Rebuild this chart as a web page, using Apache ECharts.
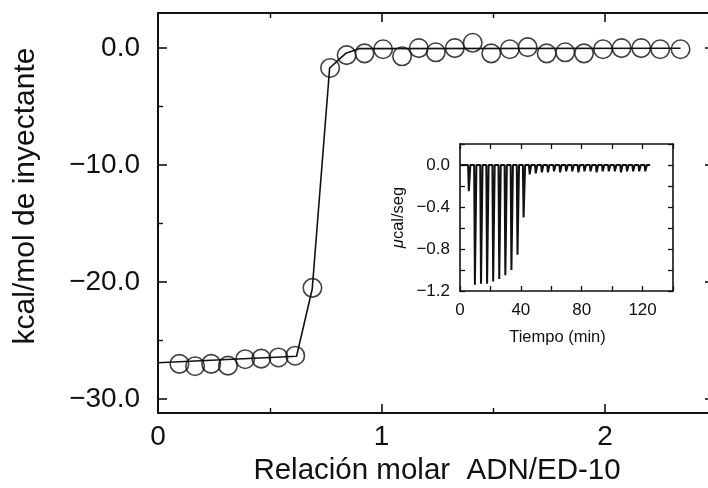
<!DOCTYPE html>
<html>
<head>
<meta charset="utf-8">
<script src="https://cdn.jsdelivr.net/npm/echarts@6/dist/echarts.min.js"></script>
<style>
  html, body { margin: 0; padding: 0; background: #ffffff; }
  #chart { width: 708px; height: 488px; }
</style>
</head>
<body>
<div id="chart"></div>
<script>
// ---- Main titration data (molar ratio vs kcal/mol of injectant) ----
const molarRatio = [0.096, 0.166, 0.238, 0.313, 0.390, 0.462, 0.539, 0.614, 0.691, 0.770,
                    0.844, 0.924, 1.007, 1.092, 1.167, 1.243, 1.328, 1.408, 1.491, 1.574,
                    1.654, 1.739, 1.822, 1.906, 1.991, 2.074, 2.162, 2.247, 2.338];
const heatPerMol = [-27.0, -27.2, -27.0, -27.15, -26.6, -26.55, -26.45, -26.3, -20.5, -1.7,
                    -0.6, -0.45, -0.1, -0.7, 0.0, -0.36, 0.0, 0.45, -0.45, -0.1,
                    0.08, -0.45, -0.36, -0.45, -0.1, 0.0, 0.0, -0.1, -0.1];
// ---- Fitted curve ----
const fitRatio = [0.0, 0.62, 0.69, 0.768, 0.84, 0.90, 2.338];
const fitHeat  = [-26.9, -26.35, -20.6, -1.7, -0.45, -0.05, -0.02];
// ---- Inset thermogram: injection times (min) and peak power (µcal/s) ----
const injTime = [5.5, 9.5, 13.5, 17.5, 21.5, 25.5, 29.5, 33.5, 37.5, 41.5,
                 45.5, 49.5, 53.5, 57.5, 61.5, 65.5, 69.5, 73.5, 77.5, 81.5,
                 85.5, 89.5, 93.5, 97.5, 101.5, 105.5, 109.5, 113.5, 117.5, 121.5];
const peakPower = [-0.25, -1.14, -1.13, -1.13, -1.11, -1.085, -1.05, -1.0, -0.855, -0.5,
                   -0.09, -0.08, -0.07, -0.07, -0.06, -0.07, -0.06, -0.06, -0.07, -0.06,
                   -0.06, -0.07, -0.06, -0.06, -0.06, -0.07, -0.06, -0.06, -0.06, -0.06];
const thermoStart = 0.5, thermoEnd = 125;
// ---- Tick values ----
const mainXTicks = [0, 1, 2];
const mainXMinor = [0.5, 1.5];
const mainYTicks = [-30, -20, -10, 0];
const mainYMinor = [-25, -15, -5];

const FONT = 'Liberation Sans, Arial, Helvetica, sans-serif';
const INK = '#111111';
const fmtMinus = (v, d) => {
  const s = Math.abs(v) < 1e-9 ? (0).toFixed(d) : v.toFixed(d);
  return s.replace('-', '\u2212');
};

const scatterData = molarRatio.map((x, i) => [x, heatPerMol[i]]);
const fitData = fitRatio.map((x, i) => [x, fitHeat[i]]);
const thermoData = [[thermoStart, 0]];
injTime.forEach((t, i) => {
  thermoData.push([t - 0.2, 0], [t + 0.3, peakPower[i]], [t + 1.3, 0]);
});
thermoData.push([thermoEnd, 0]);

const X_MAX = 556 / 223.5;
const Y_MIN = -31.2, Y_MAX = 3;

const lineStyleMain = { color: INK, width: 2 };
function xMain(extra) {
  return Object.assign({
    gridIndex: 0, type: 'value', min: 0, max: X_MAX,
    splitLine: { show: false },
    axisLine: { show: true, onZero: false, lineStyle: lineStyleMain },
    axisLabel: { show: false },
  }, extra);
}
function yMain(extra) {
  return Object.assign({
    gridIndex: 0, type: 'value', min: Y_MIN, max: Y_MAX,
    splitLine: { show: false },
    axisLine: { show: true, onZero: false, lineStyle: lineStyleMain },
    axisLabel: { show: false },
  }, extra);
}
const noLine = { show: false, onZero: false };
const tickMajor = (vals) => ({ show: true, inside: true, length: 9, customValues: vals, lineStyle: { color: INK, width: 1.6 } });
const tickMinor = (vals) => ({ show: true, inside: true, length: 5, customValues: vals, lineStyle: { color: INK, width: 1.4 } });

const insetAxisLine = { show: true, onZero: false, lineStyle: { color: INK, width: 1.6 } };
const insetTick = { show: true, inside: true, length: 5, lineStyle: { color: INK, width: 1.3 } };

const option = {
  animation: false,
  backgroundColor: '#ffffff',
  textStyle: { fontFamily: FONT },
  grid: [
    { left: 158, top: 13, width: 556, height: 400, containLabel: false, outerBoundsMode: 'none' },
    { left: 460, top: 144, width: 213, height: 147, containLabel: false, outerBoundsMode: 'none' }
  ],
  xAxis: [
    xMain({
      position: 'bottom',
      axisTick: tickMajor(mainXTicks),
      axisLabel: { show: true, customValues: mainXTicks, fontSize: 28, color: INK, margin: 10, fontFamily: FONT,
                   formatter: v => String(Math.round(v)) },
      name: 'Relación molar  ADN/ED-10', nameLocation: 'middle', nameGap: 31,
      nameTextStyle: { fontSize: 29.5, color: INK, fontFamily: FONT, padding: [0, 0, 0, 2] }
    }),
    xMain({ position: 'bottom', axisLine: noLine, axisTick: tickMinor(mainXMinor) }),
    xMain({ position: 'top', axisTick: tickMajor(mainXTicks) }),
    xMain({ position: 'top', axisLine: noLine, axisTick: tickMinor(mainXMinor) }),
    {
      gridIndex: 1, type: 'value', min: 0, max: 140, interval: 20, position: 'bottom',
      splitLine: { show: false }, axisLine: insetAxisLine, axisTick: insetTick,
      axisLabel: { show: true, fontSize: 17, color: INK, margin: 11, fontFamily: FONT,
                   formatter: v => (Math.round(v) % 40 === 0 ? String(Math.round(v)) : '') },
      name: 'Tiempo (min)', nameLocation: 'middle', nameGap: 38,
      nameTextStyle: { fontSize: 16.5, color: INK, fontFamily: FONT, padding: [0, 18, 0, 0] }
    },
    {
      gridIndex: 1, type: 'value', min: 0, max: 140, interval: 20, position: 'top',
      splitLine: { show: false }, axisLine: insetAxisLine, axisTick: insetTick,
      axisLabel: { show: false }
    }
  ],
  yAxis: [
    yMain({
      position: 'left',
      axisTick: tickMajor(mainYTicks),
      axisLabel: { show: true, customValues: mainYTicks, fontSize: 28, color: INK, margin: 18, fontFamily: FONT,
                   formatter: v => fmtMinus(v, 1) },
      name: 'kcal/mol de inyectante', nameLocation: 'middle', nameGap: 117,
      nameTextStyle: { fontSize: 30, color: INK, fontFamily: FONT, padding: [0, 0, 0, 34] }
    }),
    yMain({ position: 'left', axisLine: noLine, axisTick: tickMinor(mainYMinor) }),
    yMain({ position: 'right', axisTick: tickMajor(mainYTicks) }),
    yMain({ position: 'right', axisLine: noLine, axisTick: tickMinor(mainYMinor) }),
    {
      gridIndex: 1, type: 'value', min: -1.2, max: 0.2, interval: 0.2, position: 'left',
      splitLine: { show: false }, axisLine: insetAxisLine, axisTick: insetTick,
      axisLabel: { show: true, fontSize: 17, color: INK, margin: 10, fontFamily: FONT,
                   formatter: v => (Math.round(v * 10) % 4 === 0 ? fmtMinus(v, 1) : '') },
      name: '{i|\u03BC}cal/seg', nameLocation: 'middle', nameGap: 53,
      nameTextStyle: { fontSize: 16.5, color: INK, fontFamily: FONT,
                       rich: { i: { fontSize: 16.5, fontStyle: 'italic', color: INK, fontFamily: FONT } } }
    },
    {
      gridIndex: 1, type: 'value', min: -1.2, max: 0.2, interval: 0.2, position: 'right',
      splitLine: { show: false }, axisLine: insetAxisLine, axisTick: insetTick,
      axisLabel: { show: false }
    }
  ],
  series: [
    {
      name: 'ajuste', type: 'line', xAxisIndex: 0, yAxisIndex: 0,
      data: fitData, showSymbol: false, symbol: 'none', smooth: false,
      lineStyle: { color: INK, width: 1.6 }, z: 2
    },
    {
      name: 'datos', type: 'scatter', xAxisIndex: 0, yAxisIndex: 0,
      data: scatterData, symbol: 'circle', symbolSize: 18.5,
      itemStyle: { color: 'rgba(0,0,0,0)', borderColor: INK, borderWidth: 1.6 }, z: 3
    },
    {
      name: 'termograma', type: 'line', xAxisIndex: 4, yAxisIndex: 4,
      data: thermoData, showSymbol: false, symbol: 'none',
      lineStyle: { color: INK, width: 2 }, z: 3
    }
  ]
};

const chart = echarts.init(document.getElementById('chart'), null, { renderer: 'canvas' });
chart.setOption(option);
</script>
</body>
</html>
